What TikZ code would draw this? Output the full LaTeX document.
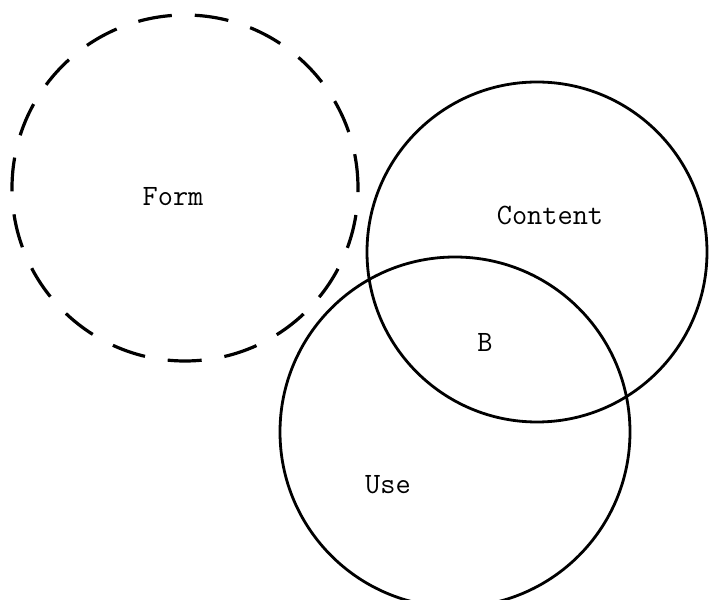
\documentclass[tikz,border=0pt]{standalone}
\begin{document}
\begin{tikzpicture}[x=1pt,y=1pt,
  ring/.style={circle, draw=black, line width=2.8pt, inner sep=0pt},
  dashring/.style={ring, line width=3.2pt, dash pattern=on 34pt off 23pt},
  lbl/.style={font=\ttfamily\fontsize{29.5}{30}\selectfont, inner sep=0pt}]
\clip (0,0) rectangle (710,600);
\useasboundingbox (0,0) rectangle (710,600);
\node[dashring, minimum size=346pt] (form) at (185,412) {};
\node[ring, minimum size=340pt] (content) at (537,348) {};
\node[ring, minimum size=350pt] (use) at (455,168) {};
\node[lbl] (formlbl) at (173,403) {Form};
\node[lbl] (contentlbl) at (550,385) {Content};
\node[lbl] (blbl) at (485,258) {B};
\node[lbl] (uselbl) at (388,115) {Use};
\end{tikzpicture}
\end{document}
